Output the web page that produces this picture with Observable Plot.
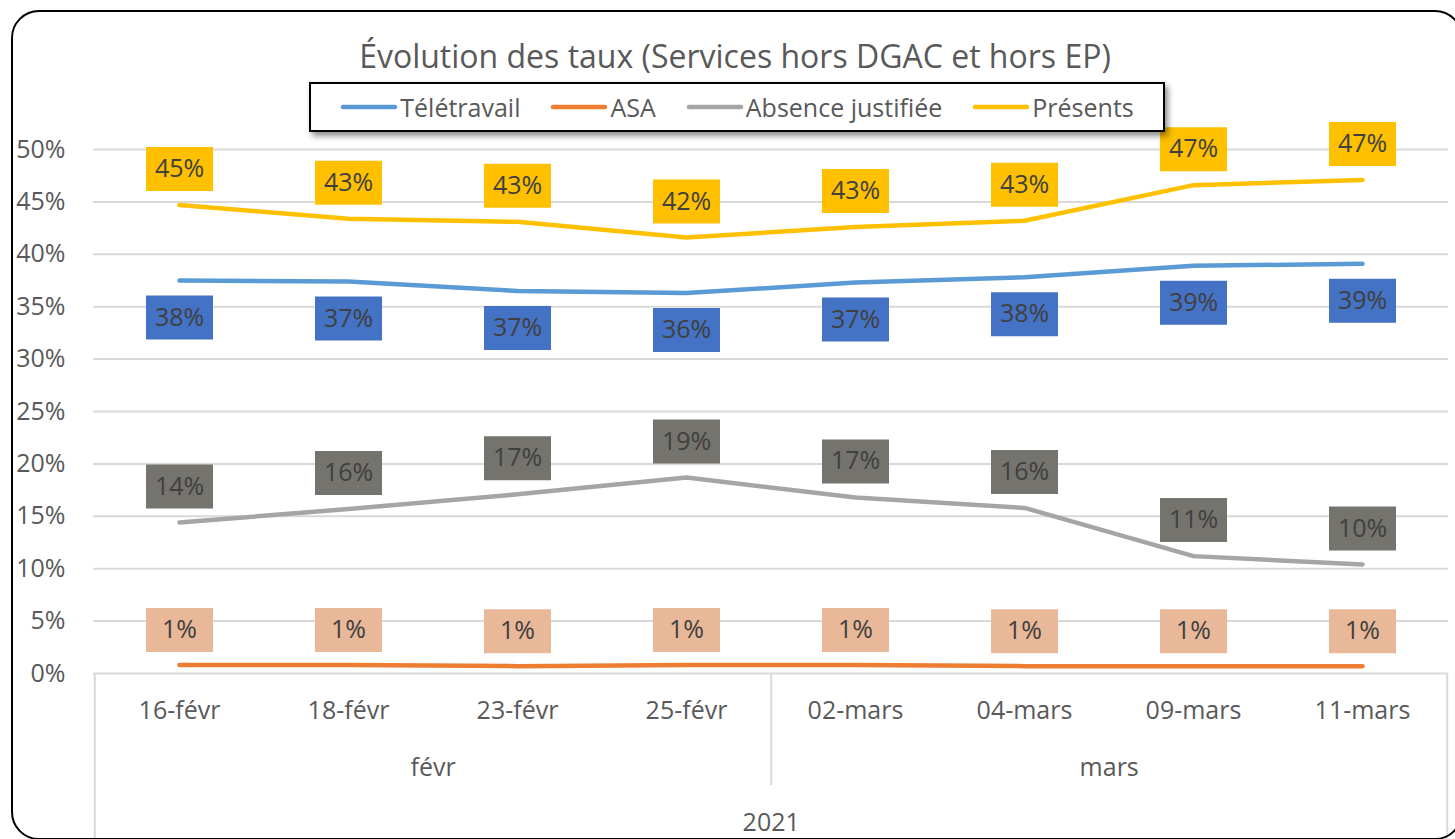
<!DOCTYPE html>
<html>
<head>
<meta charset="utf-8">
<script src="https://cdn.jsdelivr.net/npm/d3@7"></script>
<script src="https://cdn.jsdelivr.net/npm/@observablehq/plot@0.6"></script>
<style>
  html, body { margin: 0; padding: 0; background: #fff; width: 1455px; height: 839px; overflow: hidden; font-family: "Open Sans", sans-serif; }
  #frame { position: absolute; left: 11px; top: 10px; width: 1452px; height: 830px; border: 2px solid #000; border-radius: 28px; box-sizing: border-box; }
  #chart { position: absolute; left: 0; top: 0; }
  #title { position: absolute; left: 0; width: 1470px; top: 34px; text-align: center; font-size: 32px; color: #595959; line-height: 44px; white-space: nowrap; }
  #legend { position: absolute; left: 309px; top: 82px; width: 856px; height: 50px; box-sizing: border-box; border: 2px solid #000; background: #fff; box-shadow: 3px 4px 6px rgba(0,0,0,0.45); display: flex; align-items: center; justify-content: center; gap: 30px; font-size: 25px; color: #595959; }
  .item { display: flex; align-items: center; white-space: nowrap; }
  .item svg { margin-right: 2px; }
</style>
</head>
<body>
<div id="chart"></div>
<div id="frame"></div>
<div id="title"></div>
<div id="legend"></div>
<script>
// ---- data ----
const title = "Évolution des taux (Services hors DGAC et hors EP)";
const categories = ["16-févr", "18-févr", "23-févr", "25-févr", "02-mars", "04-mars", "09-mars", "11-mars"];
const months = ["févr", "mars"];
const year = "2021";
const seriesNames = ["Télétravail", "ASA", "Absence justifiée", "Présents"];
const teletravail = [37.5, 37.4, 36.5, 36.3, 37.3, 37.8, 38.9, 39.1];
const asa = [0.8, 0.8, 0.7, 0.8, 0.8, 0.7, 0.7, 0.7];
const absence = [14.4, 15.7, 17.1, 18.7, 16.8, 15.8, 11.2, 10.4];
const presents = [44.7, 43.4, 43.1, 41.6, 42.6, 43.2, 46.6, 47.1];
const yTicks = [0, 5, 10, 15, 20, 25, 30, 35, 40, 45, 50];

// ---- styles ----
const lineColors = {"Télétravail": "#5B9BD5", "ASA": "#ED7D31", "Absence justifiée": "#A5A5A5", "Présents": "#FFC000"};
const boxColors = {"Télétravail": "#4472C4", "ASA": "#E8B898", "Absence justifiée": "#75736D", "Présents": "#FFC000"};
const labelOffset = {"Télétravail": 37, "ASA": -35, "Absence justifiée": -36, "Présents": -36};

const valuesBySeries = [teletravail, asa, absence, presents];
const rows = [];
seriesNames.forEach((s, i) => valuesBySeries[i].forEach((v, j) => rows.push({series: s, cat: categories[j], value: v})));

const W = 1455, H = 839, ML = 93, MR = 7, MT = 149, MB = 166;
const step = (W - ML - MR) / categories.length;

const box = {draw(ctx) { ctx.rect(-33.5, -22, 67, 44); }};

const marks = [
  Plot.ruleY(yTicks, {y: d => d, stroke: "#D9D9D9", strokeWidth: 2}),
  Plot.text(yTicks, {y: d => d, text: d => d + "%", frameAnchor: "left", textAnchor: "end", dx: -28, fontSize: 25, fill: "#595959"}),
  // category axis decorations
  Plot.ruleX([categories[0]], {x: d => d, dx: -step / 2, y1: 0, y2: -16, stroke: "#D9D9D9", strokeWidth: 2}),
  Plot.ruleX([categories[categories.length - 1]], {x: d => d, dx: step / 2, y1: 0, y2: -16, stroke: "#D9D9D9", strokeWidth: 2}),
  Plot.ruleX([categories[3]], {x: d => d, dx: step / 2, y1: 0, y2: -10.7, stroke: "#D9D9D9", strokeWidth: 2}),
  Plot.text(categories, {x: d => d, frameAnchor: "bottom", dy: 45, fontSize: 25, fill: "#595959"}),
  Plot.text([{m: months[0], c: categories[1]}, {m: months[1], c: categories[5]}], {x: "c", text: "m", dx: step / 2, frameAnchor: "bottom", dy: 102, fontSize: 25, fill: "#595959"}),
  Plot.text([year], {x: () => categories[3], text: d => d, dx: step / 2, frameAnchor: "bottom", dy: 157, fontSize: 25, fill: "#595959"})
];

for (const s of seriesNames) {
  const data = rows.filter(r => r.series === s);
  marks.push(Plot.line(data, {x: "cat", y: "value", stroke: lineColors[s], strokeWidth: 4.5, strokeLinecap: "round", strokeLinejoin: "round"}));
}
for (const s of seriesNames) {
  const data = rows.filter(r => r.series === s);
  marks.push(Plot.dot(data, {x: "cat", y: "value", dy: labelOffset[s], symbol: box, r: 5, fill: boxColors[s], stroke: "none"}));
  marks.push(Plot.text(data, {x: "cat", y: "value", dy: labelOffset[s], text: d => Math.round(d.value) + "%", fontSize: 25, fill: "#404040"}));
}

const plot = Plot.plot({
  width: W, height: H,
  marginLeft: ML, marginRight: MR, marginTop: MT, marginBottom: MB,
  style: {fontFamily: "Open Sans", background: "transparent", overflow: "visible"},
  x: {type: "point", domain: categories, padding: 0.5, axis: null},
  y: {domain: [0, 50], axis: null},
  marks
});
document.getElementById("chart").appendChild(plot);

document.getElementById("title").textContent = title;
const legend = d3.select("#legend");
seriesNames.forEach(s => {
  const it = legend.append("div").attr("class", "item");
  const sv = it.append("svg").attr("width", 58).attr("height", 10);
  sv.append("line").attr("x1", 3).attr("x2", 55).attr("y1", 5).attr("y2", 5)
    .attr("stroke", lineColors[s]).attr("stroke-width", 4.5).attr("stroke-linecap", "round");
  it.append("span").text(s);
});
</script>
</body>
</html>
